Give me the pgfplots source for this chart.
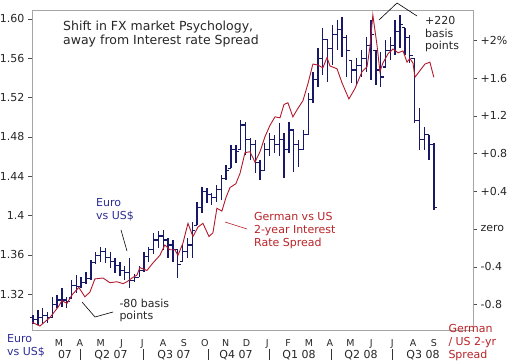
\documentclass[border=0pt]{standalone}
\usepackage{pgfplots}
\pgfplotsset{compat=1.18}
\usepackage{pgfplotstable}
\usepackage{fontspec}
\setmainfont{DejaVu Sans}
\definecolor{navybar}{RGB}{24,24,105}
\definecolor{eurotext}{RGB}{45,45,150}
\definecolor{spreadred}{RGB}{178,25,45}
\definecolor{spreadtext}{RGB}{185,35,40}
\definecolor{framegray}{RGB}{165,165,165}
\pgfdeclareplotmark{rtick}{\pgfpathmoveto{\pgfqpoint{0pt}{0pt}}\pgfpathlineto{\pgfqpoint{3pt}{0pt}}\pgfusepathqstroke}
\pgfdeclareplotmark{ltick}{\pgfpathmoveto{\pgfqpoint{-3pt}{0pt}}\pgfpathlineto{\pgfqpoint{0pt}{0pt}}\pgfusepathqstroke}
\pgfplotstableread{
m o h l c
0.74 1.296 1.299 1.290 1.294
0.98 1.294 1.304 1.288 1.296
1.21 1.296 1.306 1.290 1.298
1.44 1.298 1.302 1.291 1.296
1.67 1.296 1.317 1.296 1.309
1.90 1.309 1.319 1.306 1.314
2.14 1.314 1.326 1.307 1.314
2.37 1.314 1.317 1.306 1.312
2.60 1.316 1.334 1.316 1.329
2.83 1.329 1.339 1.321 1.328
3.06 1.328 1.337 1.326 1.332
3.30 1.332 1.342 1.330 1.336
3.53 1.336 1.355 1.334 1.352
3.76 1.352 1.363 1.351 1.359
3.99 1.359 1.368 1.353 1.363
4.22 1.363 1.367 1.352 1.357
4.46 1.357 1.363 1.347 1.353
4.69 1.353 1.357 1.341 1.349
4.92 1.349 1.353 1.338 1.344
5.15 1.344 1.349 1.334 1.342
5.38 1.342 1.357 1.326 1.334
5.62 1.334 1.340 1.332 1.337
5.85 1.337 1.349 1.337 1.344
6.08 1.344 1.363 1.342 1.358
6.31 1.358 1.368 1.353 1.365
6.54 1.365 1.382 1.361 1.375
6.78 1.375 1.384 1.367 1.379
7.01 1.379 1.385 1.365 1.375
7.24 1.375 1.377 1.357 1.370
7.47 1.370 1.375 1.353 1.365
7.70 1.365 1.365 1.336 1.350
7.94 1.353 1.370 1.353 1.363
8.17 1.363 1.377 1.357 1.370
8.40 1.370 1.393 1.357 1.385
8.63 1.390 1.414 1.390 1.408
8.86 1.408 1.429 1.402 1.424
9.10 1.424 1.428 1.413 1.421
9.33 1.421 1.423 1.411 1.418
9.56 1.418 1.431 1.414 1.426
9.79 1.426 1.441 1.416 1.438
10.02 1.438 1.451 1.436 1.446
10.26 1.448 1.472 1.448 1.467
10.49 1.467 1.472 1.453 1.465
10.72 1.467 1.497 1.467 1.492
10.95 1.492 1.495 1.462 1.477
11.18 1.477 1.479 1.456 1.472
11.42 1.472 1.477 1.443 1.454
11.65 1.454 1.456 1.436 1.446
11.88 1.446 1.474 1.446 1.467
12.11 1.467 1.484 1.460 1.477
12.34 1.477 1.482 1.464 1.472
12.58 1.472 1.494 1.460 1.477
12.81 1.477 1.484 1.438 1.467
13.04 1.467 1.495 1.464 1.487
13.27 1.487 1.487 1.444 1.472
13.50 1.472 1.477 1.449 1.467
13.74 1.467 1.487 1.467 1.482
13.97 1.482 1.525 1.482 1.518
14.20 1.518 1.546 1.514 1.538
14.43 1.538 1.570 1.531 1.560
14.66 1.560 1.591 1.543 1.579
14.90 1.579 1.579 1.536 1.570
15.13 1.570 1.594 1.553 1.584
15.36 1.584 1.599 1.568 1.589
15.59 1.589 1.602 1.561 1.581
15.82 1.581 1.584 1.541 1.568
16.06 1.558 1.558 1.535 1.548
16.29 1.548 1.560 1.533 1.553
16.52 1.553 1.568 1.541 1.560
16.75 1.560 1.582 1.546 1.573
16.98 1.573 1.599 1.538 1.584
17.22 1.568 1.568 1.533 1.548
17.45 1.548 1.566 1.531 1.541
17.68 1.551 1.579 1.551 1.568
17.91 1.568 1.582 1.558 1.573
18.14 1.573 1.599 1.563 1.587
18.38 1.587 1.604 1.570 1.594
18.61 1.591 1.591 1.563 1.581
18.84 1.581 1.584 1.555 1.563
19.07 1.560 1.560 1.494 1.497
19.30 1.497 1.509 1.467 1.477
19.54 1.477 1.490 1.467 1.482
19.77 1.482 1.482 1.456 1.472
20.00 1.472 1.474 1.406 1.408
}\eurotab
\pgfplotstableread{
m r
0.70 -0.99
1.08 -1.03
1.56 -0.94
1.95 -0.83
2.14 -0.76
2.38 -0.79
2.62 -0.70
2.95 -0.62
3.24 -0.72
3.48 -0.67
3.72 -0.53
4.11 -0.52
4.44 -0.57
4.78 -0.56
5.07 -0.58
5.26 -0.56
5.50 -0.52
5.74 -0.49
5.88 -0.41
6.22 -0.44
6.51 -0.36
6.84 -0.28
7.08 -0.17
7.32 -0.22
7.56 -0.22
7.71 -0.28
7.95 -0.15
8.19 0.06
8.43 -0.08
8.67 0.02
8.91 0.06
9.20 -0.08
9.39 -0.04
9.58 0.22
9.82 0.19
10.01 0.33
10.21 0.44
10.49 0.48
10.69 0.59
10.93 0.81
11.17 0.82
11.41 0.71
11.65 0.82
11.89 0.98
12.13 1.10
12.37 1.19
12.61 1.18
12.80 1.32
12.99 1.34
13.23 1.19
13.47 1.28
13.71 1.36
13.95 1.54
14.19 1.75
14.43 1.74
14.67 1.71
14.87 1.82
15.01 1.73
15.35 1.70
15.59 1.55
15.92 1.38
16.21 1.49
16.55 1.67
16.79 1.72
16.93 1.93
17.07 2.27
17.27 1.95
17.41 1.67
17.55 1.76
17.80 1.86
18.04 1.91
18.28 1.87
18.52 1.89
18.71 1.77
18.85 1.81
19.00 1.76
19.09 1.61
19.33 1.68
19.57 1.75
19.81 1.77
20.00 1.61
}\spreadtab
\begin{document}
\begin{tikzpicture}
\path[use as bounding box] (-32pt,-31pt) rectangle (477pt,330pt);
\begin{axis}[
  at={(0pt,0pt)}, anchor=south west, scale only axis,
  width=441pt, height=320pt,
  xmin=0.70, xmax=21.88, ymin=1.2834, ymax=1.6091,
  axis line style={framegray},
  ytick={1.32,1.36,1.40,1.44,1.48,1.52,1.56,1.60},
  yticklabels={1.32,1.36,1.4,1.44,1.48,1.52,1.56,1.60},
  ytick pos=left, tick align=outside, major tick length=4pt,
  y tick style={black!70},
  yticklabel style={font=\fontsize{11}{13}\selectfont, text=black!85},
  xtick={2,3,...,20},
  xticklabels={M,A,M,J,J,A,S,O,N,D,J,F,M,A,M,J,J,A,S},
  xtick pos=bottom, x tick style={draw=none},
  xticklabel style={font=\fontsize{9.5}{11}\selectfont, text=black!85, anchor=base, yshift=-13pt},
]
\addplot[only marks, mark=rtick, navybar, mark options={line width=1.2pt},
  error bars/.cd, y dir=both, y explicit, error mark=none,
  error bar style={navybar, line width=1.35pt}]
  table[x=m, y=c, y error plus expr={\thisrow{h}-\thisrow{c}}, y error minus expr={\thisrow{c}-\thisrow{l}}] {\eurotab};
\addplot[only marks, mark=ltick, navybar, mark options={line width=1.2pt}]
  table[x=m, y=o] {\eurotab};
\end{axis}
\begin{axis}[
  at={(0pt,0pt)}, anchor=south west, scale only axis,
  width=441pt, height=320pt,
  xmin=0.70, xmax=21.88, ymin=-1.072, ymax=2.324,
  axis x line=none, axis y line*=right,
  axis line style={framegray},
  tick align=outside, major tick length=4pt,
  y tick style={black!70},
  ytick={-0.8,-0.4,0,0.4,0.8,1.2,1.6,2.0},
  yticklabels={-0.8,-0.4,zero,+0.4,+0.8,+1.2,+1.6,+2\%},
  yticklabel style={font=\fontsize{11}{13}\selectfont, text=black!85, anchor=west},
]
\addplot[spreadred, line width=0.9pt, mark=none] table[x=m, y=r] {\spreadtab};
\end{axis}
% annotations
\begin{scope}[every node/.style={inner sep=0pt, anchor=base west}]
\node[font=\fontsize{12.5}{14}\selectfont, text=black!85] at (31pt,299pt) {Shift in FX market Psychology,};
\node[font=\fontsize{12.5}{14}\selectfont, text=black!85] at (31pt,285pt) {away from Interest rate Spread};
\node[font=\fontsize{11}{13}\selectfont, text=black!85] at (393pt,305pt) {+220};
\node[font=\fontsize{11}{13}\selectfont, text=black!85] at (393pt,292pt) {basis};
\node[font=\fontsize{11}{13}\selectfont, text=black!85] at (393pt,280pt) {points};
\node[font=\fontsize{11}{13}\selectfont, text=eurotext] at (64pt,123.3pt) {Euro};
\node[font=\fontsize{11}{13}\selectfont, text=eurotext] at (64pt,110.7pt) {vs US\$};
\node[font=\fontsize{11}{13}\selectfont, text=spreadtext] at (222pt,109.3pt) {German vs US};
\node[font=\fontsize{11}{13}\selectfont, text=spreadtext] at (222pt,96pt) {2-year Interest};
\node[font=\fontsize{11}{13}\selectfont, text=spreadtext] at (222pt,83.3pt) {Rate Spread};
\node[font=\fontsize{11}{13}\selectfont, text=black!85] at (87.3pt,22.7pt) {-80 basis};
\node[font=\fontsize{11}{13}\selectfont, text=black!85] at (87.3pt,10pt) {points};
\node[font=\fontsize{11}{13}\selectfont, text=eurotext] at (-25pt,-12.7pt) {Euro};
\node[font=\fontsize{11}{13}\selectfont, text=eurotext] at (-25pt,-26pt) {vs US\$};
\node[font=\fontsize{11}{13}\selectfont, text=spreadtext] at (416.3pt,-2.7pt) {German};
\node[font=\fontsize{11}{13}\selectfont, text=spreadtext] at (416.3pt,-16pt) {/ US 2-yr};
\node[font=\fontsize{11}{13}\selectfont, text=spreadtext] at (416.3pt,-28.3pt) {Spread};
\end{scope}
\begin{scope}[every node/.style={inner sep=0pt, anchor=base, font=\fontsize{11}{13}\selectfont, text=black!85}]
\node at (33pt,-28.3pt) {07};
\node at (79pt,-28.3pt) {Q2 07};
\node at (142pt,-28.3pt) {Q3 07};
\node at (204pt,-28.3pt) {Q4 07};
\node at (267pt,-28.3pt) {Q1 08};
\node at (329pt,-28.3pt) {Q2 08};
\node at (391pt,-28.3pt) {Q3 08};
\end{scope}
\foreach \sx in {48,111,176,237,299,360} \draw[black!80, line width=0.6pt] (\sx pt,-19pt) -- (\sx pt,-30pt);
\draw[black, line width=0.6pt] (89pt,100pt) -- (95pt,79pt);
\draw[spreadtext, line width=0.6pt] (193pt,108pt) -- (215pt,101pt);
\draw[black, line width=0.6pt] (50pt,28pt) -- (63pt,13pt) -- (81pt,18pt);
\draw[black, line width=0.6pt] (347pt,310pt) -- (365pt,327pt) -- (385pt,314pt);
\end{tikzpicture}
\end{document}
